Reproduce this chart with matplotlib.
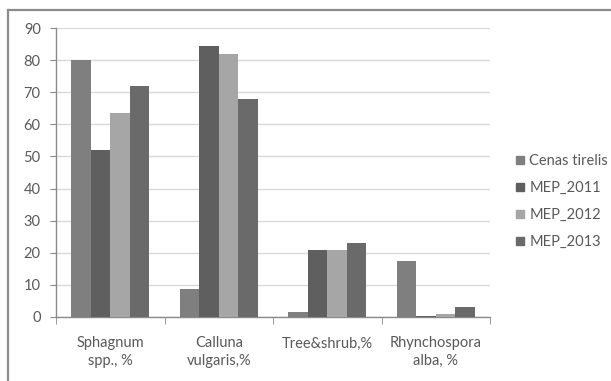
import numpy as np
import matplotlib.pyplot as plt
from matplotlib.lines import Line2D

categories = ["Sphagnum\nspp., %", "Calluna\nvulgaris,%", "Tree&shrub,%", "Rhynchospora\nalba, %"]
series = ["Cenas tirelis", "MEP_2011", "MEP_2012", "MEP_2013"]
cenas = [80, 8.7, 1.5, 17.5]
mep_2011 = [52, 84.5, 20.8, 0.3]
mep_2012 = [63.5, 82, 20.8, 0.9]
mep_2013 = [72, 68, 23.2, 3.2]
colors = ["#7f7f7f", "#5f5f5f", "#a6a6a6", "#6a6a6a"]

plt.rcParams["font.family"] = ["Lato", "DejaVu Sans"]
FS = 10.5

fig = plt.figure(figsize=(6.11, 3.81), dpi=100)
ax = fig.add_axes([56 / 611, 1 - 317 / 381, (490 - 56) / 611, (317 - 28) / 381])

x = np.arange(len(categories))
w = 0.18
for i, (name, vals) in enumerate(zip(series, [cenas, mep_2011, mep_2012, mep_2013])):
    ax.bar(x + (i - 1.5) * w, vals, width=w, color=colors[i], label=name, zorder=3)

ax.set_xlim(-0.5, len(categories) - 0.5)
ax.set_ylim(0, 90)
ax.set_yticks(range(0, 91, 10))
ax.grid(axis="y", color="#d9d9d9", linewidth=1, zorder=0)

for s in ["top", "right"]:
    ax.spines[s].set_visible(False)
for s in ["left", "bottom"]:
    ax.spines[s].set_color("#8a8a8a")
    ax.spines[s].set_linewidth(1)

ax.set_xticks(x)
ax.set_xticklabels(categories, va="top", linespacing=1.3)
ax.set_xticks(np.arange(-0.5, len(categories)), minor=True)
ax.tick_params(axis="x", which="major", length=0, pad=14, labelsize=FS, labelcolor="#595959")
ax.tick_params(axis="x", which="minor", length=5, color="#8a8a8a")
ax.tick_params(axis="y", length=4, color="#8a8a8a", pad=7, labelsize=FS, labelcolor="#595959")

handles = [Line2D([], [], marker="s", linestyle="", markersize=6,
                  markerfacecolor=c, markeredgecolor=c) for c in colors]
leg = fig.legend(handles, series, loc="upper left", bbox_to_anchor=(509 / 611, 1 - 148 / 381),
                 frameon=False, fontsize=FS, handlelength=0.7, handletextpad=0.3,
                 labelspacing=0.9, borderaxespad=0)
for t in leg.get_texts():
    t.set_color("#595959")

# outer chart frame (left and top edges)
fig.add_artist(Line2D([8 / 611, 8 / 611], [0, 1 - 10 / 381], transform=fig.transFigure,
                      color="#8c8c8c", linewidth=1.6))
fig.add_artist(Line2D([8 / 611, 1], [1 - 10 / 381, 1 - 10 / 381], transform=fig.transFigure,
                      color="#8c8c8c", linewidth=1.6))

fig.savefig("out.png", dpi=100)
